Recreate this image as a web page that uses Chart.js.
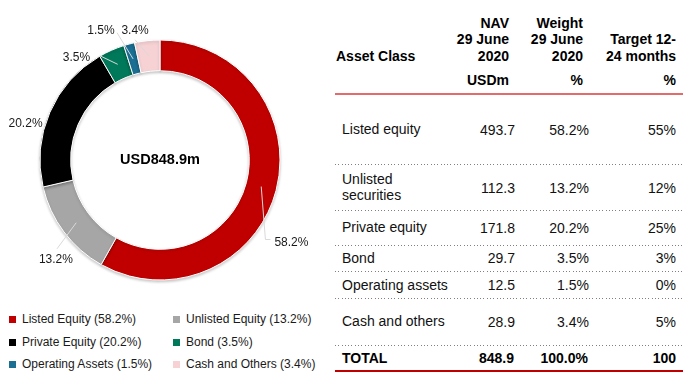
<!DOCTYPE html>
<html><head><meta charset="utf-8">
<script src="https://cdn.jsdelivr.net/npm/chart.js@4.4.0/dist/chart.umd.min.js"></script>
<style>
html,body{margin:0;padding:0;background:#fff;width:691px;height:391px;overflow:hidden;font-family:"Liberation Sans",Arial,sans-serif;color:#111;}
#chartBox{position:absolute;left:0;top:0;width:320px;height:300px;}
.t{position:absolute;white-space:nowrap;font-size:14px;line-height:16px;color:#111;}
.b{font-weight:bold;color:#000;}
.r{text-align:right;}
.leg{position:absolute;font-size:12px;line-height:14px;white-space:nowrap;color:#1a1a1a;}
.sw{position:absolute;width:7px;height:7px;}
.dot{position:absolute;left:335px;width:348px;height:1px;background:repeating-linear-gradient(to right,#808080 0 1px,transparent 1px 3.3px);}
.hl{position:absolute;left:335px;width:348px;}
</style></head><body>
<div id="chartBox"><canvas id="c" width="320" height="300"></canvas></div>
<div id="legend"></div>
<div id="table"></div>
<script>
// ---- data ----
const categories = ["Listed Equity","Unlisted Equity","Private Equity","Bond","Operating Assets","Cash and Others"];
const navValues = [493.7,112.3,171.8,29.7,12.5,28.9];
const weights = [58.2,13.2,20.2,3.5,1.5,3.4];
const totalLabel = "USD848.9m";
const colors = ["#c00000","#a6a6a6","#000000","#00785a","#1b6f93","#f7d2d5"];

const tableRows = ["Listed equity","Unlisted\nsecurities","Private equity","Bond","Operating assets","Cash and others"];
const tableNav = ["493.7","112.3","171.8","29.7","12.5","28.9"];
const tableWeight = ["58.2%","13.2%","20.2%","3.5%","1.5%","3.4%"];
const tableTarget = ["55%","12%","25%","3%","0%","5%"];
const totalRow = ["TOTAL","848.9","100.0%","100"];
const headAsset = "Asset Class";
const headNav = ["NAV","29 June","2020"];
const headWeight = ["Weight","29 June","2020"];
const headTarget = ["Target 12-","24 months"];
const headUnits = ["USDm","%","%"];

// ---- layout (style only) ----
const W = 691;
const rowCenters = [129.5,188,227.7,258.3,285,321.7];
const totalCenter = 358.3;
const dotLines = [164,210,245.7,271.7,298.3,345];
const colRight = [515,589,676];
const headRight = [509,583,676];
const headLineC = [22.7,39.3,56];
const unitC = 80;
const legendRows = [319.3,342.3,364];
const legendCols = [[9,22],[173,186]];

// ---- table ----
const tbl = document.getElementById('table');
function addText(txt, cls, left, right, center, lh){
  const d = document.createElement('div');
  d.className = 't ' + cls;
  lh = lh || 16;
  d.style.lineHeight = lh + 'px';
  const lines = txt.split('\n');
  d.innerHTML = lines.join('<br>');
  d.style.top = (center - lh*lines.length/2) + 'px';
  if (left != null) d.style.left = left + 'px';
  if (right != null) { d.style.right = (W - right) + 'px'; d.style.textAlign = 'right'; }
  tbl.appendChild(d);
}
addText(headAsset,'b',336,null,headLineC[2]);
headNav.forEach((s,i)=>addText(s,'b',null,headRight[0],headLineC[i]));
headWeight.forEach((s,i)=>addText(s,'b',null,headRight[1],headLineC[i]));
headTarget.forEach((s,i)=>addText(s,'b',null,headRight[2],headLineC[i+1]));
headUnits.forEach((s,i)=>addText(s,'b',null,headRight[i],unitC));
tableRows.forEach((name,i)=>{
  addText(name,'',342,null,rowCenters[i] + (name.includes('\n') ? -0.7 : 0),16.7);
  addText(tableNav[i],'',null,colRight[0],rowCenters[i]);
  addText(tableWeight[i],'',null,colRight[1],rowCenters[i]);
  addText(tableTarget[i],'',null,colRight[2],rowCenters[i]);
});
addText(totalRow[0],'b',342,null,totalCenter);
addText(totalRow[1],'b',null,colRight[0]-1,totalCenter);
addText(totalRow[2],'b',null,colRight[1]-1,totalCenter);
addText(totalRow[3],'b',null,colRight[2],totalCenter);
dotLines.forEach(y=>{const d=document.createElement('div');d.className='dot';d.style.top=(y-0.5)+'px';tbl.appendChild(d);});
(function(){
  const a=document.createElement('div');a.className='hl';a.style.top='93.3px';a.style.height='2px';a.style.background='#e26b6b';tbl.appendChild(a);
  const b=document.createElement('div');b.className='hl';b.style.top='370px';b.style.height='1.5px';b.style.background='#c00000';tbl.appendChild(b);
})();

// ---- legend ----
const leg = document.getElementById('legend');
categories.forEach((c,i)=>{
  const row = Math.floor(i/2), col = i%2;
  const y = legendRows[row];
  const sw = document.createElement('div'); sw.className='sw';
  sw.style.left = legendCols[col][0]+'px'; sw.style.top = (y-3)+'px'; sw.style.background = colors[i];
  leg.appendChild(sw);
  const t = document.createElement('div'); t.className='leg';
  t.style.left = legendCols[col][1]+'px'; t.style.top = (y-7)+'px';
  t.textContent = c + ' (' + weights[i].toFixed(1) + '%)';
  leg.appendChild(t);
});

// ---- chart ----
const labelPlugin = {
  id: 'sliceLabels',
  beforeDatasetsDraw(chart){
    const ctx = chart.ctx; ctx.save();
    ctx.shadowColor = 'rgba(0,0,0,0.22)'; ctx.shadowBlur = 3; ctx.shadowOffsetY = 1.5;
  },
  afterDatasetsDraw(chart, args, opts){
    const ctx = chart.ctx; ctx.restore(); ctx.save();
    const meta = chart.getDatasetMeta(0);
    let cx = 0, cy = 0;
    const pos = [];
    meta.data.forEach((arc,i)=>{
      const p = arc.getProps(['x','y','startAngle','endAngle','innerRadius','outerRadius'], true);
      cx = p.x; cy = p.y;
      const mid = (p.startAngle + p.endAngle)/2;
      const ax = p.x + opts.radius*Math.cos(mid), ay = p.y + opts.radius*Math.sin(mid);
      const off = opts.offsets[i];
      const lx = ax + off[0], ly = ay + off[1];
      pos.push([lx,ly]);
      const lead = opts.leaders[i];
      if (lead){
        const rm = (p.innerRadius + p.outerRadius)/2;
        ctx.beginPath();
        ctx.moveTo(p.x + rm*Math.cos(mid), p.y + rm*Math.sin(mid));
        lead.forEach(pt=>ctx.lineTo(lx+pt[0], ly+pt[1]));
        ctx.strokeStyle = '#d9d9d9'; ctx.lineWidth = 1; ctx.stroke();
      }
    });
    ctx.fillStyle = '#1a1a1a';
    ctx.font = '12px "Liberation Sans", Arial, sans-serif';
    ctx.textAlign = 'center'; ctx.textBaseline = 'middle';
    pos.forEach((q,i)=>ctx.fillText(weights[i].toFixed(1)+'%', q[0], q[1]));
    ctx.fillStyle = '#000';
    ctx.font = 'bold 14.5px "Liberation Sans", Arial, sans-serif';
    ctx.fillText(totalLabel, cx, cy);
    ctx.restore();
  }
};

new Chart(document.getElementById('c'), {
  type: 'doughnut',
  data: {
    labels: categories,
    datasets: [{
      data: navValues,
      backgroundColor: colors,
      borderColor: '#ffffff',
      borderWidth: 1,
      radius: 120,
      cutout: '74.4%'
    }]
  },
  options: {
    responsive: false,
    animation: false,
    events: [],
    layout: { padding: { left: 40, right: 40, top: 40, bottom: 20 } },
    plugins: {
      legend: { display: false },
      tooltip: { enabled: false },
      sliceLabels: {
        radius: 140,
        offsets: [[-4,47],[8,16],[-6,19],[-27,26],[-23,6],[-10,10]],
        leaders: [[[-26,-3],[-21,-3]], [[1,-11]], null, [[24,-2]], [[16,2]], [[0,9]]]
      }
    }
  },
  plugins: [labelPlugin]
});
</script>
</body></html>
